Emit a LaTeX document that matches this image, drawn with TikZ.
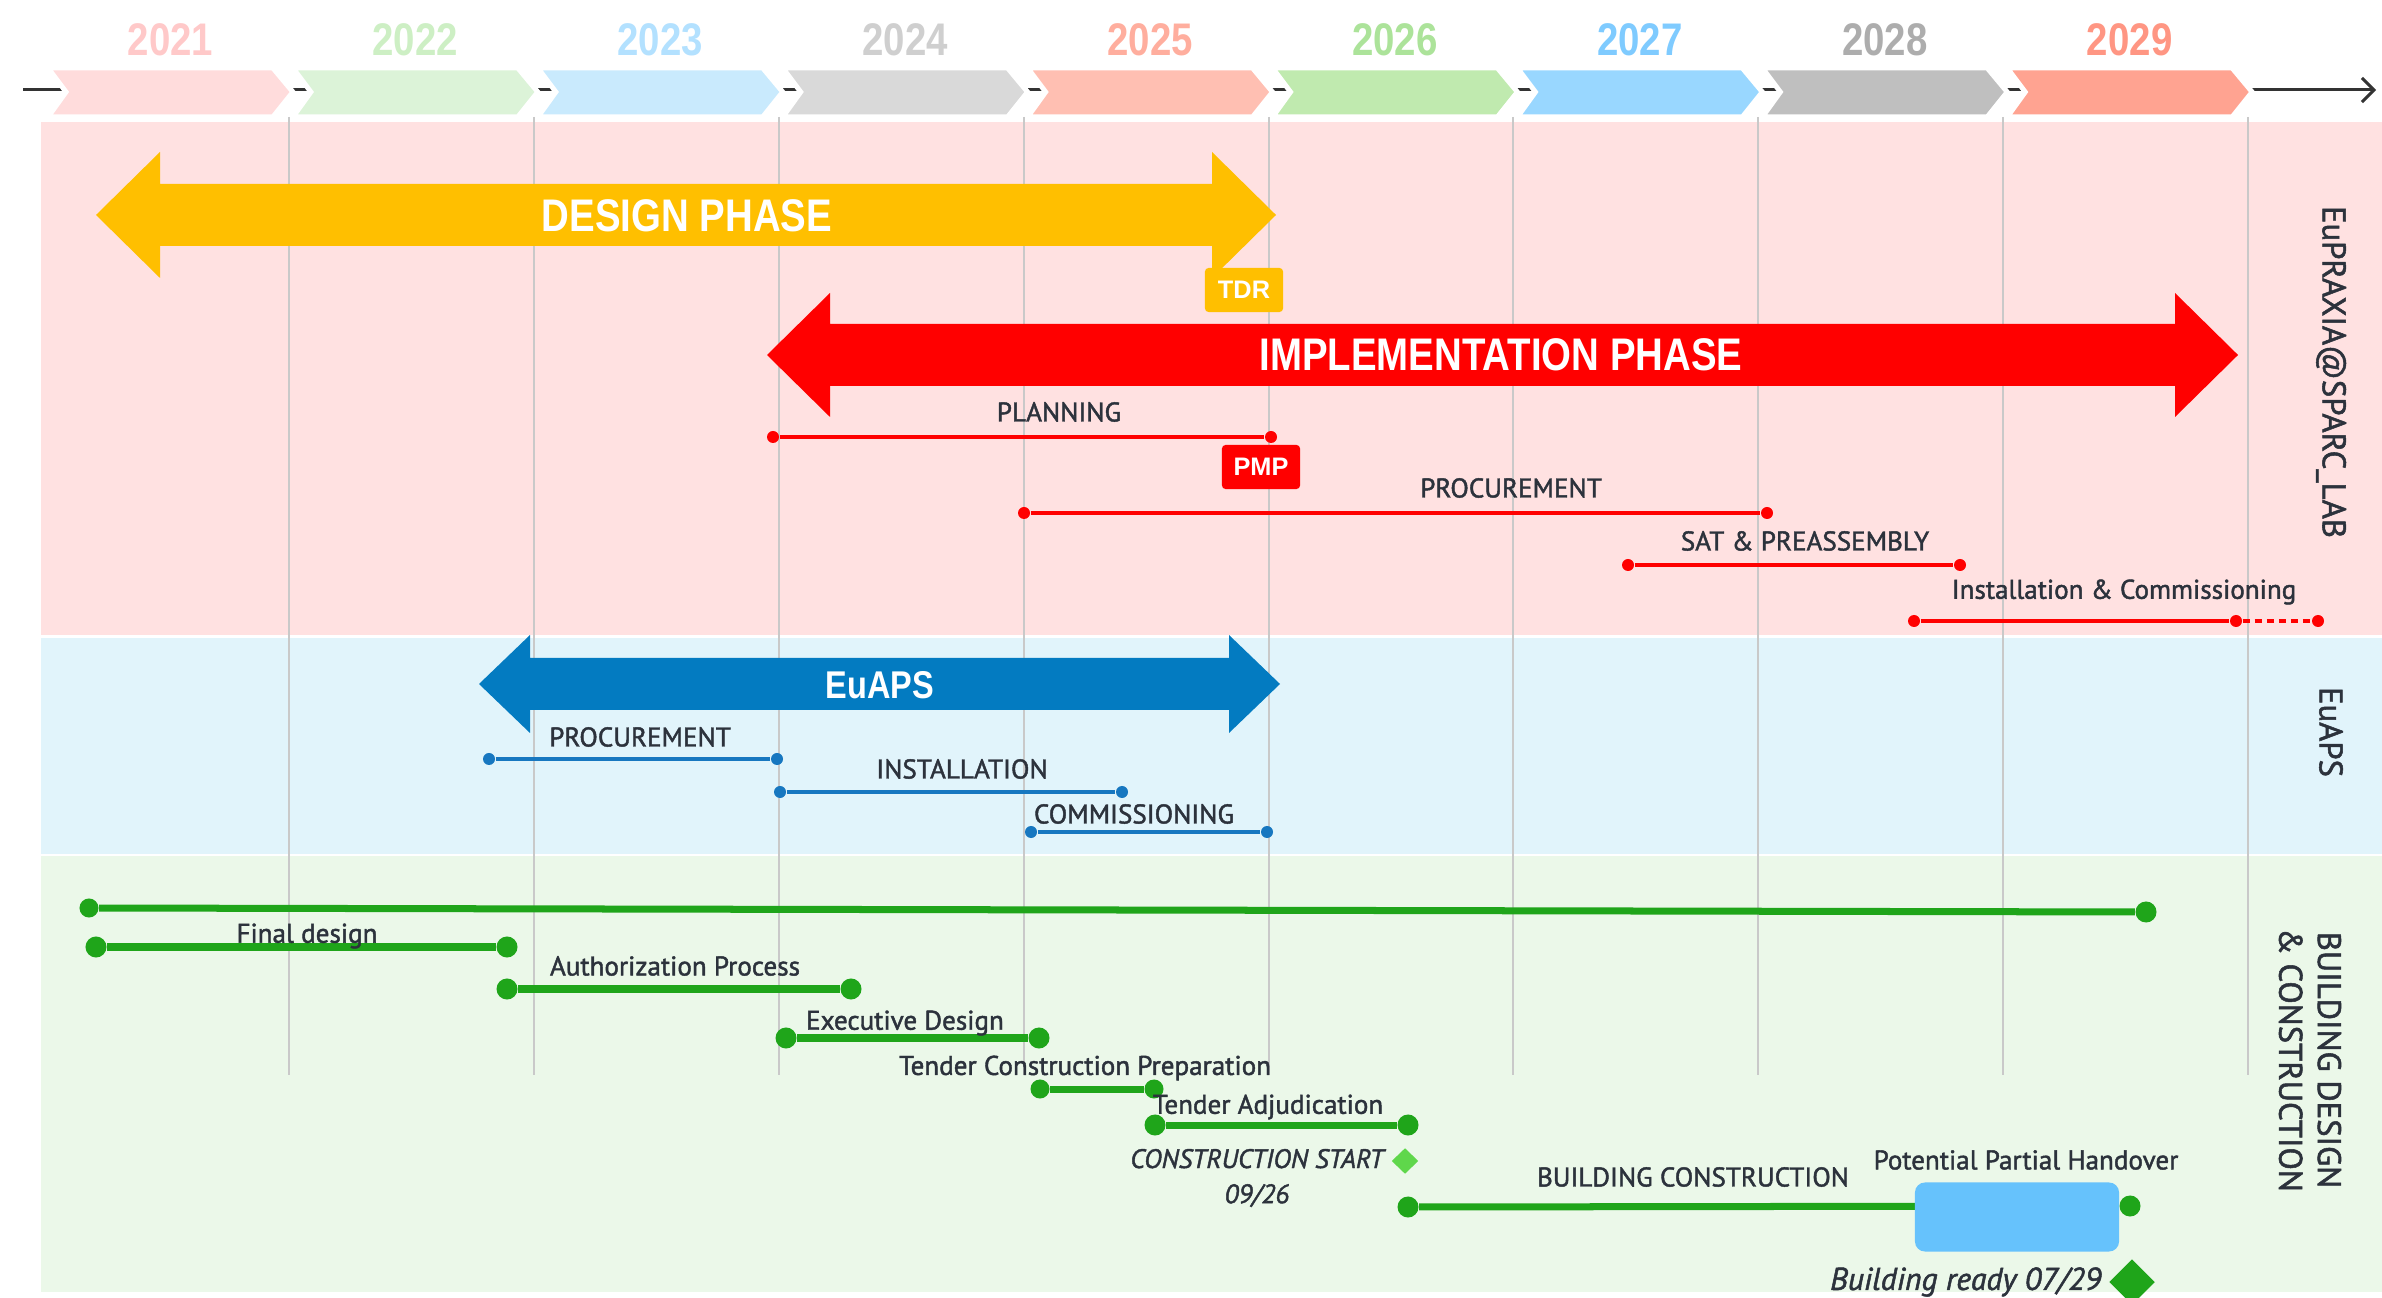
\documentclass[tikz,border=0pt]{standalone}
\usepackage{fontspec}
\setmainfont{PT Sans}
\newfontfamily\labfont[FakeBold=1.6]{PT Sans}
\newfontfamily\headfont[FakeStretch=0.84]{Liberation Sans}
\newfontfamily\boxfont{Liberation Sans}
\usepackage{xcolor}
\usepackage{tikz}
\usetikzlibrary{arrows.meta,positioning,shapes.geometric,calc}

\definecolor{bandred}{HTML}{FFE1E1}
\definecolor{bandblue}{HTML}{E1F4FB}
\definecolor{bandgreen}{HTML}{EBF8E9}
\definecolor{gridgray}{HTML}{C9C9C9}
\definecolor{designyel}{HTML}{FFBF00}
\definecolor{implred}{HTML}{FF0000}
\definecolor{euapsblue}{HTML}{037BC1}
\definecolor{linkblue}{HTML}{1777C0}
\definecolor{bargreen}{HTML}{1FA51A}
\definecolor{lightdia}{HTML}{5FD74B}
\definecolor{handblue}{HTML}{66C2FC}
\definecolor{txtdark}{HTML}{2C323C}
% chevron fills and year colours
\definecolor{ch0}{HTML}{FFDCDC}\definecolor{yt0}{HTML}{FFC9C9}
\definecolor{ch1}{HTML}{DCF3D8}\definecolor{yt1}{HTML}{CDEFC4}
\definecolor{ch2}{HTML}{C9EAFD}\definecolor{yt2}{HTML}{B3E1FF}
\definecolor{ch3}{HTML}{D9D9D9}\definecolor{yt3}{HTML}{CFCFCF}
\definecolor{ch4}{HTML}{FFBFB2}\definecolor{yt4}{HTML}{FFAE9E}
\definecolor{ch5}{HTML}{C0EAAF}\definecolor{yt5}{HTML}{ACE39A}
\definecolor{ch6}{HTML}{99D7FF}\definecolor{yt6}{HTML}{7FCBFF}
\definecolor{ch7}{HTML}{BFBFBF}\definecolor{yt7}{HTML}{ADADAD}
\definecolor{ch8}{HTML}{FFA391}\definecolor{yt8}{HTML}{FF9683}

% #1 colour, #2 left tip, #3 right tip, #4 centre y, #5 half shaft, #6 half head, #7 head length
\newcommand{\dblarrow}[7]{%
  \fill[#1] (#2,#4) -- (#2+#7,#4-#6) -- (#2+#7,#4-#5) -- (#3-#7,#4-#5)
    -- (#3-#7,#4-#6) -- (#3,#4) -- (#3-#7,#4+#6) -- (#3-#7,#4+#5)
    -- (#2+#7,#4+#5) -- (#2+#7,#4+#6) -- cycle;}

\begin{document}
\begin{tikzpicture}[
        x=0.01cm, y=-0.01cm,
        lbl/.style={text=txtdark, font=\labfont\fontsize{7.7}{9}\selectfont, inner sep=0pt},
        milestone/.style={text=txtdark, font=\labfont\itshape\fontsize{7.6}{10}\selectfont, inner sep=0pt, align=center},
        side/.style={text=txtdark, font=\labfont\fontsize{9.3}{11}\selectfont, rotate=-90, align=center, inner sep=0pt},
        phase/.style={text=white, font=\headfont\bfseries\fontsize{13}{15}\selectfont, inner sep=0pt},
        year/.style={font=\headfont\bfseries\fontsize{13}{15}\selectfont, inner sep=0pt},
        docbox/.style={text=white, font=\boxfont\bfseries\fontsize{7.2}{8}\selectfont, minimum width=0.78cm, minimum height=0.44cm, rounded corners=1pt, inner sep=0pt},
        chev/.style={draw=white, line width=0.05cm, line join=miter},
        grid/.style={gridgray, line width=0.02cm},
        axis/.style={black!80, line width=0.03cm, -{Straight Barb[length=0.12cm]}},
        rbar/.style={implred, line width=0.035cm},
        rdot/.style={circle, fill=implred, inner sep=0pt, minimum size=0.12cm},
        bbar/.style={linkblue, line width=0.035cm},
        bdot/.style={circle, fill=linkblue, inner sep=0pt, minimum size=0.12cm},
        gbar/.style={bargreen, line width=0.07cm},
        gdot/.style={circle, fill=bargreen, inner sep=0pt, minimum size=0.21cm},
        dia/.style={diamond, inner sep=0pt}
    ]
    \fill[white] (0,0) rectangle (2382,1298);
    \useasboundingbox (0,0) rectangle (2382,1298);

    % Bands
    \fill[bandred] (41,122) rectangle (2382,635);
    \fill[bandblue] (41,638) rectangle (2382,854);
    \fill[bandgreen] (41,856) rectangle (2382,1292);

    % Years
    \coordinate (tlstart) at (23,90);
    \coordinate (tlend) at (2376,90);
    \draw[axis] (tlstart) -- (tlend);
    \foreach \i/\yr in {0/2021,1/2022,2/2023,3/2024,4/2025,5/2026,6/2027,7/2028,8/2029} {
        \pgfmathsetmacro\xa{44+244.9*\i}
        \pgfmathsetmacro\xb{44+244.9*(\i+1)}
        \filldraw[chev, fill=ch\i] (\xa+4,68) -- (\xb-16,68) -- (\xb+4,92) -- (\xb-16,117) -- (\xa+4,117) -- (\xa+22,92) -- cycle;
        \node[year, text=yt\i] (y\yr) at ({(\xa+\xb)/2+4},40) {\yr};
    }
    \foreach \i in {1,...,9} {
        \pgfmathsetmacro\xg{44+244.9*\i}
        \draw[grid] (\xg,117) -- (\xg,1075);
    }

    % Phases
    \dblarrow{designyel}{96}{1276}{215}{31}{63}{64}
    \node[phase] (design) at (687,216) {DESIGN PHASE};
    \node[docbox, fill=designyel] (tdr) at (1244,290) {TDR};
    \dblarrow{implred}{767}{2238}{355}{31}{62}{63}
    \node[phase] (impl) at (1501,355) {IMPLEMENTATION PHASE};

    % EuPRAXIA tasks
    \node[rdot] (pl1) at (773,437) {};
    \node[rdot] (pl2) at (1271,437) {};
    \draw[rbar] (pl1) -- (pl2);
    \node[lbl] (plan) at (1059,412) {PLANNING};
    \node[docbox, fill=implred] (pmp) at (1261,467) {PMP};
    \node[rdot] (pr1) at (1024,513) {};
    \node[rdot] (pr2) at (1767,513) {};
    \draw[rbar] (pr1) -- (pr2);
    \node[lbl] (proc) at (1511,488) {PROCUREMENT};
    \node[rdot] (sa1) at (1628,565) {};
    \node[rdot] (sa2) at (1960,565) {};
    \draw[rbar] (sa1) -- (sa2);
    \node[lbl] (sat) at (1805,541) {SAT \& PREASSEMBLY};
    \node[rdot] (ic1) at (1914,621) {};
    \node[rdot] (ic2) at (2236,621) {};
    \node[rdot] (ic3) at (2318,621) {};
    \draw[rbar] (ic1) -- (ic2);
    \draw[rbar, dash pattern=on 0.07cm off 0.05cm] (ic2) -- (ic3);
    \node[lbl] (inst) at (2124,592) {Installation \& Commissioning};

    % EuAPS
    \dblarrow{euapsblue}{479}{1280}{684}{26}{49}{51}
    \node[phase, font=\headfont\bfseries\fontsize{11}{13}\selectfont] (euaps) at (880,685) {EuAPS};
    \node[bdot] (bp1) at (489,759) {};
    \node[bdot] (bp2) at (777,759) {};
    \draw[bbar] (bp1) -- (bp2);
    \node[lbl] (bproc) at (640,737) {PROCUREMENT};
    \node[bdot] (bi1) at (780,792) {};
    \node[bdot] (bi2) at (1122,792) {};
    \draw[bbar] (bi1) -- (bi2);
    \node[lbl] (binst) at (962,769) {INSTALLATION};
    \node[bdot] (bc1) at (1031,832) {};
    \node[bdot] (bc2) at (1267,832) {};
    \draw[bbar] (bc1) -- (bc2);
    \node[lbl] (bcomm) at (1134,814) {COMMISSIONING};

    % Building
    \node[gdot, minimum size=0.19cm] (all1) at (89,908) {};
    \node[gdot] (all2) at (2146,912) {};
    \draw[gbar] (all1) -- (all2);
    \node[gdot] (fd1) at (96,947) {};
    \node[gdot] (fd2) at (507,947) {};
    \draw[gbar] (fd1) -- (fd2);
    \node[lbl] (final) at (307,936) {Final design};
    \node[gdot] (ap1) at (507,989) {};
    \node[gdot] (ap2) at (851,989) {};
    \draw[gbar] (ap1) -- (ap2);
    \node[lbl] (auth) at (675,966) {Authorization Process};
    \node[gdot] (ed1) at (786,1038) {};
    \node[gdot] (ed2) at (1039,1038) {};
    \draw[gbar] (ed1) -- (ed2);
    \node[lbl] (exec) at (905,1023) {Executive Design};
    \node[gdot, minimum size=0.19cm] (tp1) at (1040,1089) {};
    \node[gdot, minimum size=0.19cm] (tp2) at (1154,1089) {};
    \draw[gbar] (tp1) -- (tp2);
    \node[lbl] (tcp) at (1085,1068) {Tender Construction Preparation};
    \node[gdot] (ta1) at (1155,1125) {};
    \node[gdot] (ta2) at (1408,1125) {};
    \draw[gbar] (ta1) -- (ta2);
    \node[lbl] (tadj) at (1268,1107) {Tender Adjudication};
    \node[dia, fill=lightdia, minimum width=0.27cm, minimum height=0.26cm] (cstart) at (1405,1161) {};
    \node[milestone] (cstxt) at (1257,1178) {CONSTRUCTION START\\09/26};
    \node[gdot] (bn1) at (1408,1207) {};
    \node[gdot] (bn2) at (2130,1206) {};
    \draw[gbar] (bn1) -- (bn2);
    \node[lbl] (bcons) at (1693,1177) {BUILDING CONSTRUCTION};
    \node[fill=handblue, rounded corners=0.1cm, minimum width=2.04cm, minimum height=0.69cm, inner sep=0pt] (hand) at (2017,1217) {};
    \node[lbl] (handtxt) at (2026,1160) {Potential Partial Handover};
    \node[dia, fill=bargreen, minimum width=0.46cm, minimum height=0.46cm] (ready) at (2132,1282) {};
    \node[milestone, font=\labfont\itshape\fontsize{9}{10}\selectfont, anchor=east] (readytxt) at (2102,1282) {Building ready 07/29};

    % Side labels
    \node[side] (sparc) at (2331,372) {EuPRAXIA@SPARC\_LAB};
    \node[side] (seuaps) at (2331,732) {EuAPS};
    \node[side] (sbuild) at (2310,1060) {BUILDING DESIGN\\\& CONSTRUCTION};
\end{tikzpicture}
\end{document}
